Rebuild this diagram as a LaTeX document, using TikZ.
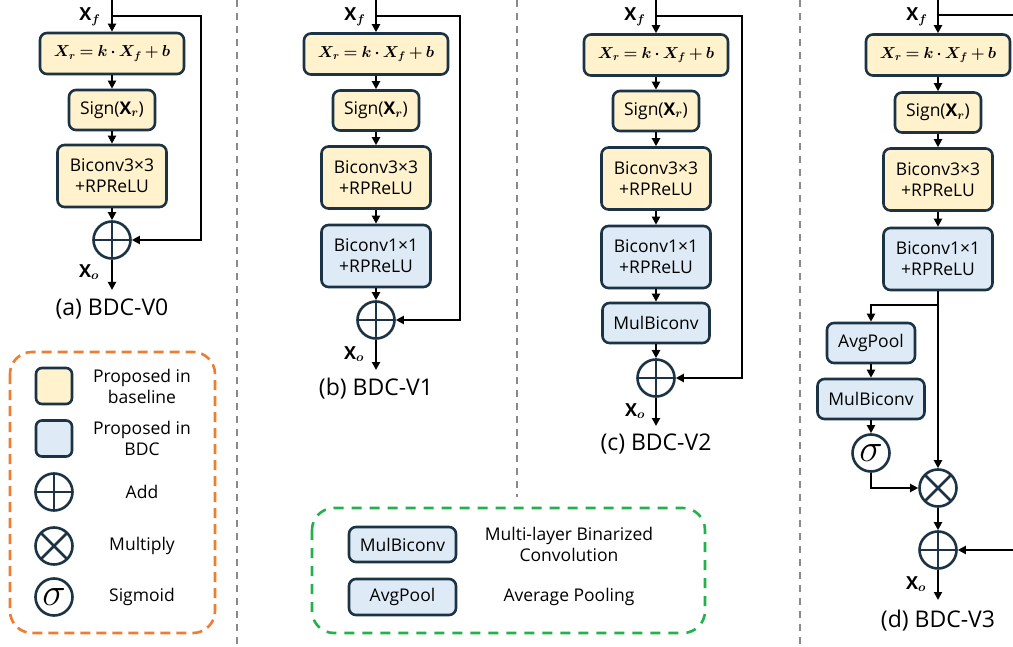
\RequirePackage{fix-cm}
\documentclass[tikz,border=0pt]{standalone}
\usepackage{amsmath}
\usepackage{graphicx}
\usepackage{fontspec}
\setmainfont{Open Sans}
\usetikzlibrary{arrows.meta}
\definecolor{bd}{HTML}{1B3344}
\definecolor{yel}{HTML}{FFF2CC}
\definecolor{blu}{HTML}{DEEBF7}
\definecolor{org}{HTML}{ED7D31}
\definecolor{grn}{HTML}{22B14C}
\definecolor{gry}{HTML}{8A8A8A}
\newcommand{\eqtxt}{{\fontsize{17.28}{21}\selectfont\scalebox{0.92}{\medmuskip=3mu\thickmuskip=4mu$\boldsymbol{X_r = k\cdot X_f + b}$}}}
\newcommand{\sgntxt}{Sign($\mathbf{X}_{\boldsymbol{r}}$)}
\newcommand{\xf}{$\mathbf{X}_{\boldsymbol{f}}$}
\newcommand{\xo}{$\mathbf{X}_{\boldsymbol{o}}$}
\newcommand{\sigtxt}{{\fontsize{20.74}{21}\selectfont\scalebox{1.9}{$\sigma$}}}
\tikzset{
  box/.style={draw=bd, line width=2.6pt, rounded corners=7pt, align=center, inner sep=0pt, font=\fontsize{17.5}{21}\selectfont},
  ybox/.style={box, fill=yel},
  bbox/.style={box, fill=blu},
  eqbox/.style={ybox, minimum width=144pt, minimum height=41pt},
  sgbox/.style={ybox, minimum width=86pt, minimum height=40pt},
  b3box/.style={ybox, minimum width=109pt, minimum height=62pt},
  b1box/.style={bbox, minimum width=109pt, minimum height=62pt},
  mbbox/.style={bbox, minimum width=107pt, minimum height=40pt},
  apbox/.style={bbox, minimum width=88pt, minimum height=40pt},
  op/.style={circle, draw=bd, line width=2.6pt, minimum size=37pt, inner sep=0pt, fill=white},
  addop/.style={op, path picture={\draw[bd, line width=2.6pt] (path picture bounding box.north) -- (path picture bounding box.south) (path picture bounding box.west) -- (path picture bounding box.east);}},
  mulop/.style={op, path picture={\draw[bd, line width=2.6pt] (path picture bounding box.north east) -- (path picture bounding box.south west) (path picture bounding box.north west) -- (path picture bounding box.south east);}},
  sigop/.style={op},
  ln/.style={line width=2.3pt, black},
  arr/.style={ln, -{Triangle[length=8pt,width=8pt]}},
  lbl/.style={font=\fontsize{18}{18}\selectfont},
  captxt/.style={font=\fontsize{23}{23}\selectfont},
  legtxt/.style={font=\fontsize{17.5}{21}\selectfont, align=center},
  divider/.style={draw=gry, line width=2pt, dash pattern=on 7pt off 6pt},
  legsq/.style={draw=bd, line width=2.6pt, rounded corners=6pt, minimum size=36pt, inner sep=0pt},
}
\begin{document}
\begin{tikzpicture}[x=1pt, y=-1pt]
\useasboundingbox[fill=white] (0,0) rectangle (1013,647);

% dividers
\draw[divider] (237,0) -- (237,647);
\draw[divider] (517,0) -- (517,497);
\draw[divider] (800,0) -- (800,647);

% ---------- panel (a)
\coordinate (a0) at (112,0);
\coordinate (aj) at (112,16);
\coordinate (ar) at (201,16);
\coordinate (ao) at (112,290);
\node[eqbox] (a1) at (112,53.5) {\eqtxt};
\node[sgbox] (a2) at (112,110) {\sgntxt};
\node[b3box] (a3) at (112,176) {Biconv3×3\\+RPReLU};
\node[addop] (a4) at (112,240) {};
\draw[arr] (a0) -- (a1);
\draw[arr] (a1) -- (a2);
\draw[arr] (a2) -- (a3);
\draw[arr] (a3) -- (a4);
\draw[arr] (a4) -- (ao);
\draw[arr] (aj) -- (ar) |- (a4);
\node[lbl] (axf) at (90,17) {\xf};
\node[lbl] (axo) at (89,272) {\xo};
\node[captxt] (acap) at (112,309) {(a) BDC-V0};

% ---------- panel (b)
\coordinate (b0) at (376,0);
\coordinate (bj) at (376,16);
\coordinate (br) at (460,16);
\coordinate (bo) at (376,370);
\node[eqbox] (b1) at (376,54) {\eqtxt};
\node[sgbox] (b2) at (376,110.5) {\sgntxt};
\node[b3box] (b3) at (376,177.5) {Biconv3×3\\+RPReLU};
\node[b1box] (b4) at (376,256) {Biconv1×1\\+RPReLU};
\node[addop] (b5) at (376,320) {};
\draw[arr] (b0) -- (b1);
\draw[arr] (b1) -- (b2);
\draw[arr] (b2) -- (b3);
\draw[arr] (b3) -- (b4);
\draw[arr] (b4) -- (b5);
\draw[arr] (b5) -- (bo);
\draw[arr] (bj) -- (br) |- (b5);
\node[lbl] (bxf) at (355,17) {\xf};
\node[lbl] (bxo) at (354,354) {\xo};
\node[captxt] (bcap) at (376,389) {(b) BDC-V1};

% ---------- panel (c)
\coordinate (c0) at (656,0);
\coordinate (cj) at (656,16);
\coordinate (cr) at (742,16);
\coordinate (co) at (656,426);
\node[eqbox] (c1) at (656,55) {\eqtxt};
\node[sgbox] (c2) at (656,111) {\sgntxt};
\node[b3box] (c3) at (656,178.5) {Biconv3×3\\+RPReLU};
\node[b1box] (c4) at (656,257) {Biconv1×1\\+RPReLU};
\node[mbbox] (c5) at (656,323) {MulBiconv};
\node[addop] (c6) at (656,378) {};
\draw[arr] (c0) -- (c1);
\draw[arr] (c1) -- (c2);
\draw[arr] (c2) -- (c3);
\draw[arr] (c3) -- (c4);
\draw[arr] (c4) -- (c5);
\draw[arr] (c5) -- (c6);
\draw[arr] (c6) -- (co);
\draw[arr] (cj) -- (cr) |- (c6);
\node[lbl] (cxf) at (635,17) {\xf};
\node[lbl] (cxo) at (635,411) {\xo};
\node[captxt] (ccap) at (656,444) {(c) BDC-V2};

% ---------- panel (d)
\coordinate (d0) at (938,0);
\coordinate (dj) at (938,15);
\coordinate (dr) at (1013,15);
\coordinate (dr2) at (1013,550);
\coordinate (dk) at (938,305);
\coordinate (dl) at (871,305);
\coordinate (do) at (938,600);
\node[eqbox] (d1) at (938,55) {\eqtxt};
\node[sgbox] (d2) at (938,112.5) {\sgntxt};
\node[b3box] (d3) at (938,179.5) {Biconv3×3\\+RPReLU};
\node[b1box] (d4) at (938,259) {Biconv1×1\\+RPReLU};
\node[apbox] (d5) at (871,343) {AvgPool};
\node[mbbox] (d6) at (871,399) {MulBiconv};
\node[sigop] (d7) at (871,453) {\sigtxt};
\node[mulop] (d8) at (938,488) {};
\node[addop] (d9) at (938,550) {};
\draw[arr] (d0) -- (d1);
\draw[arr] (d1) -- (d2);
\draw[arr] (d2) -- (d3);
\draw[arr] (d3) -- (d4);
\draw[arr] (d4) -- (d8);
\draw[arr] (dk) -- (dl) -- (d5);
\draw[arr] (d5) -- (d6);
\draw[arr] (d6) -- (d7);
\draw[arr] (d7) |- (d8);
\draw[arr] (d8) -- (d9);
\draw[arr] (d9) -- (do);
\draw[ln] (dj) -- (dr);
\draw[arr] (dr2) -- (d9);
\node[lbl] (dxf) at (917,17) {\xf};
\node[lbl] (dxo) at (916,584) {\xo};
\node[captxt] (dcap) at (938,621) {(d) BDC-V3};

% ---------- legend (orange)
\draw[org, line width=2.6pt, dash pattern=on 10pt off 6pt, rounded corners=22pt] (10,352) rectangle (215,633);
\node[legsq, fill=yel] (l1) at (54,386) {};
\node[legsq, fill=blu] (l2) at (54,438.5) {};
\node[addop] (l3) at (54,492) {};
\node[mulop] (l4) at (54,546) {};
\node[sigop] (l5) at (54,597) {\sigtxt};
\node[legtxt] (t1) at (142,386) {Proposed in\\baseline};
\node[legtxt] (t2) at (142,438.5) {Proposed in\\BDC};
\node[legtxt] (t3) at (142,492) {Add};
\node[legtxt] (t4) at (142,546) {Multiply};
\node[legtxt] (t5) at (142,597) {Sigmoid};

% ---------- legend (green)
\draw[grn, line width=2.6pt, dash pattern=on 10pt off 8pt, rounded corners=22pt] (312,508) rectangle (705,633);
\node[bbox, minimum width=107pt, minimum height=35pt] (g1) at (402.5,544.5) {MulBiconv};
\node[bbox, minimum width=107pt, minimum height=36pt] (g2) at (402.5,597) {AvgPool};
\node[legtxt] (gt1) at (569,544) {Multi-layer Binarized\\Convolution};
\node[legtxt] (gt2) at (569,597) {Average Pooling};
\end{tikzpicture}
\end{document}
